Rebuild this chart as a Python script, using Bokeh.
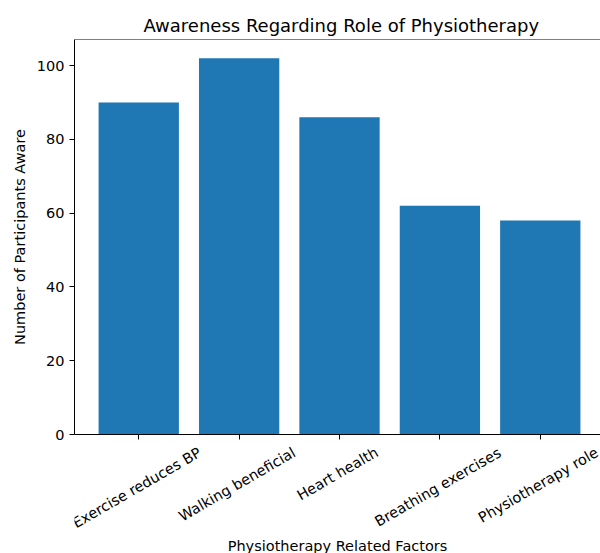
import math

from bokeh.core.properties import value
from bokeh.embed import file_html
from bokeh.layouts import column
from bokeh.models import FixedTicker, Range1d, Span
from bokeh.plotting import figure
from bokeh.resources import INLINE

# ---- data -------------------------------------------------------------
categories = ["Exercise reduces BP", "Walking beneficial", "Heart health",
              "Breathing exercises", "Physiotherapy role"]
aware_counts = [90, 102, 86, 62, 58]
y_ticks = [0, 20, 40, 60, 80, 100]

title_text = "Awareness Regarding Role of Physiotherapy"
x_title = "Physiotherapy Related Factors"
y_title = "Number of Participants Aware"

# ---- styling ----------------------------------------------------------
FONT = "DejaVu Sans"
BAR_COLOR = "#1f77b4"
TICK_PX = 14.5
ANGLE_DEG = 30
W = 600
GAP = 7              # px between the x axis line and the bottom of the chart
TOP_H = 441          # chart panel
BOTTOM_H = 112       # strip holding the rotated category names

# approximate DejaVu Sans advance widths (em fractions) for label layout
_ADV = {" ": .318, "a": .613, "b": .635, "c": .550, "d": .635, "e": .615,
        "f": .352, "g": .635, "h": .634, "i": .278, "k": .579, "l": .278,
        "n": .634, "o": .612, "p": .635, "r": .411, "s": .521, "t": .392,
        "u": .634, "v": .592, "w": .818, "x": .592, "y": .592, "B": .686,
        "E": .632, "H": .752, "P": .603, "W": .989}


def text_width(s, size):
    return sum(_ADV.get(ch, 0.6) for ch in s) * size


idx = list(range(len(categories)))
y_top = max(aware_counts) * 1.05
x_range = Range1d(-0.64, 4.60)

# ---- main chart -------------------------------------------------------
p = figure(width=W, height=TOP_H, output_backend="svg", toolbar_location=None,
           x_range=x_range, y_range=Range1d(0, y_top),
           min_border_left=74, min_border_right=0, min_border_top=39,
           min_border_bottom=GAP, background_fill_color="white",
           border_fill_color="white", outline_line_color=None)

p.title.text = title_text
p.title.align = "left"
p.title.offset = 69
p.title.text_font = FONT
p.title.text_font_size = "18px"
p.title.text_font_style = "normal"
p.title.text_color = "#000000"
p.title.standoff = 7

p.vbar(x=idx, top=aware_counts, bottom=0, width=0.8,
       fill_color=BAR_COLOR, line_color=None)

# top spine
p.add_layout(Span(location=y_top, dimension="width", line_color="#000000",
                  line_width=1))

p.xgrid.visible = False
p.ygrid.visible = False

for ax in (p.xaxis[0], p.yaxis[0]):
    ax.axis_line_color = "#000000"
    ax.axis_line_width = 1
    ax.major_tick_line_color = "#000000"
    ax.major_tick_out = 5
    ax.major_tick_in = 0
    ax.minor_tick_line_color = None
    ax.major_label_text_font = FONT
    ax.major_label_text_color = "#000000"
    ax.axis_label_text_font = FONT
    ax.axis_label_text_font_size = "14.5px"
    ax.axis_label_text_font_style = "normal"
    ax.axis_label_text_color = "#000000"

p.yaxis.ticker = FixedTicker(ticks=y_ticks)
p.yaxis.major_label_text_font_size = f"{TICK_PX}px"
p.yaxis.major_label_standoff = 5
p.yaxis.axis_label = y_title
p.yaxis.axis_label_standoff = 6

# x ticks only; the category names go in the strip underneath
p.xaxis.ticker = FixedTicker(ticks=idx)
p.xaxis.major_label_overrides = {i: "" for i in idx}
p.xaxis.major_label_text_font_size = "1px"
p.xaxis.major_label_standoff = 0

# ---- label strip under the x axis (y in px below the axis line) -------
strip = figure(width=W, height=BOTTOM_H, output_backend="svg", title=None,
               toolbar_location=None, x_range=x_range,
               y_range=Range1d(-(GAP + BOTTOM_H), -GAP),
               x_axis_location=None, y_axis_location=None,
               min_border_left=74, min_border_right=0, min_border_top=0,
               min_border_bottom=0, background_fill_color="white",
               border_fill_color="white", outline_line_color=None)
strip.xgrid.visible = False
strip.ygrid.visible = False

a = math.radians(ANGLE_DEG)
label_y = []
for name in categories:
    w = text_width(name, TICK_PX)
    box_h = w * math.sin(a) + 0.73 * TICK_PX * math.cos(a)
    label_y.append(-(12 + box_h / 2))

strip.text(x=idx, y=label_y, text=categories, angle=ANGLE_DEG,
           angle_units="deg", x_offset=-2, text_align="center",
           text_baseline="middle", text_font=value(FONT),
           text_font_size=f"{TICK_PX}px", text_color="#000000")

strip.text(x=[(x_range.start + x_range.end) / 2], y=[-111], text=[x_title],
           text_align="center", text_baseline="alphabetic",
           text_font=value(FONT), text_font_size="14.5px",
           text_color="#000000")

layout = column(p, strip, spacing=0)
open("out.html", "w").write(file_html(layout, INLINE))
